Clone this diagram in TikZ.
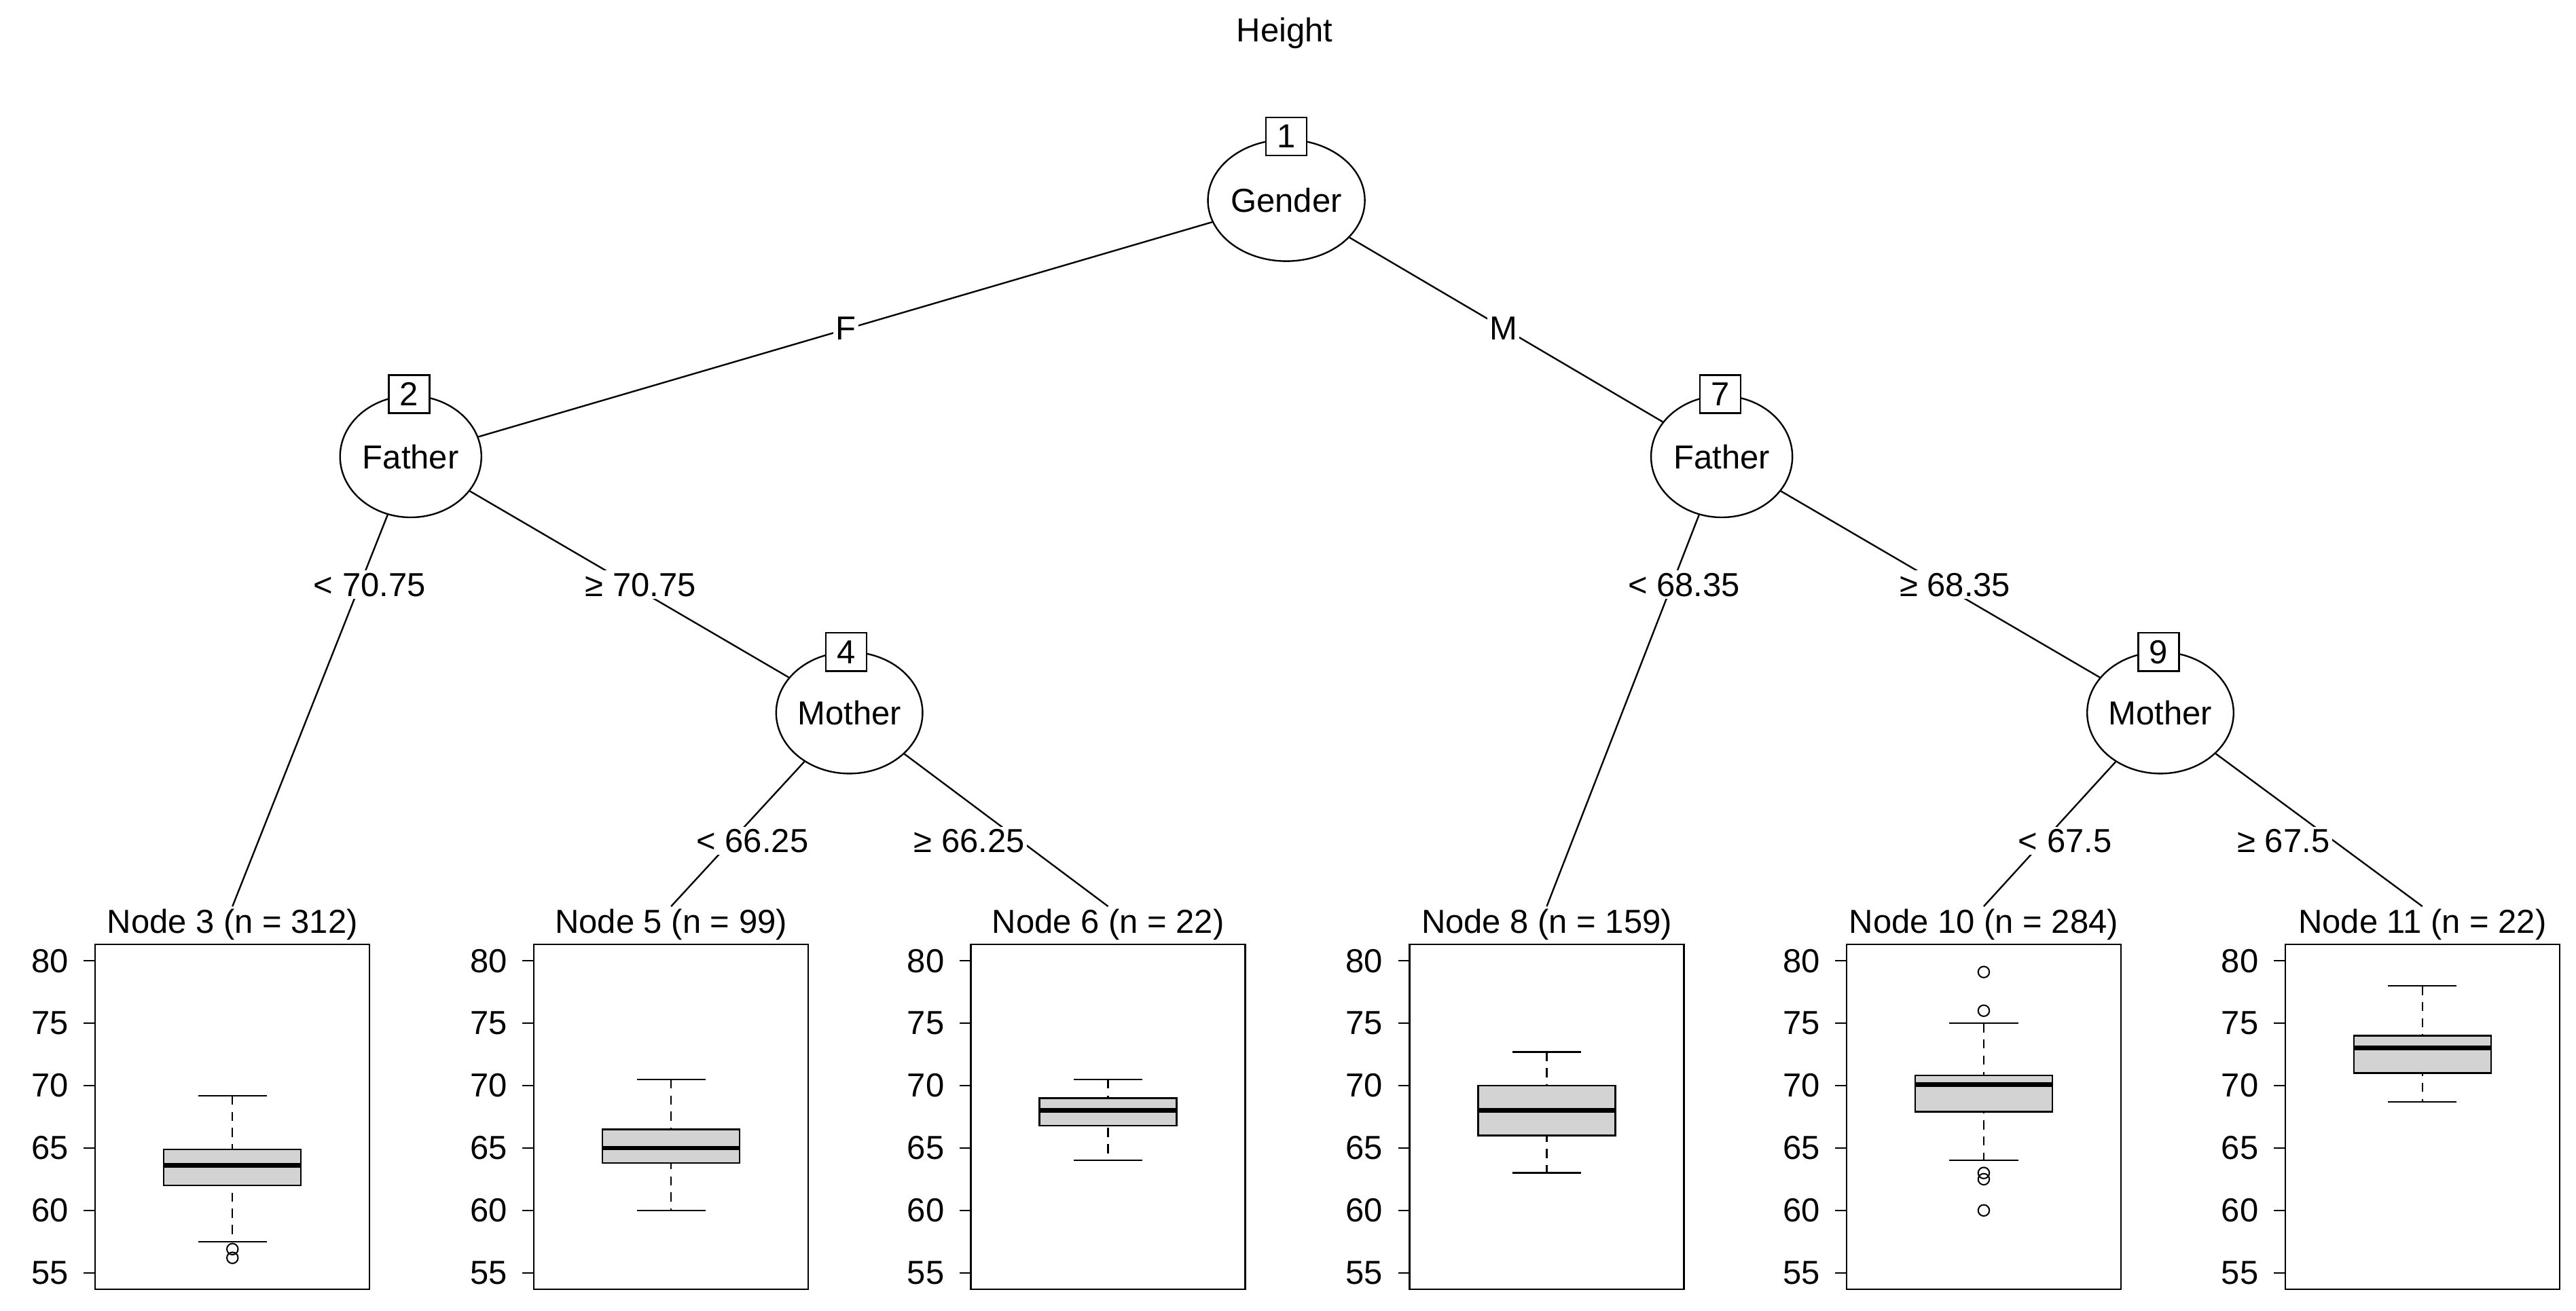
\documentclass[tikz,border=0pt]{standalone}
\usepackage{fontspec}
\setmainfont{Liberation Sans}
\usetikzlibrary{shapes.geometric}
\tikzset{
  every node/.style={font=\fontsize{14.4}{17}\selectfont},
  split/.style={ellipse,draw,line width=0.7pt,minimum width=2.15cm,minimum height=1.85cm,inner sep=0pt},
  idbox/.style={draw,fill=white,line width=0.7pt,minimum width=0.62cm,minimum height=0.58cm,inner sep=0pt},
  elab/.style={fill=white,inner sep=1pt},
  edge/.style={line width=0.7pt},
  ttl/.style={inner sep=1pt},
  pl/.style={line width=0.7pt},
}
% #1 left x, #2 name, #3 title, #4 wlo, #5 q1, #6 med, #7 q3, #8 whi
\newcommand\bxpanel[8]{%
  \node[ttl] (#2) at ({#1+83.5},563) {#3};
  \draw[pl] (#1,575) rectangle ({#1+167},785);
  \foreach \v in {55,60,...,80}{
    \draw[pl] ({#1-7},{585+(80-\v)*7.6}) -- (#1,{585+(80-\v)*7.6});
    \node[anchor=east,inner sep=0pt] at ({#1-16},{585+(80-\v)*7.6}) {\v};
  }
  \draw[pl,dash pattern=on 4pt off 3pt] ({#1+83.5},{585+(80-#8)*7.6}) -- ({#1+83.5},{585+(80-#4)*7.6});
  \draw[pl] ({#1+62.6},{585+(80-#8)*7.6}) -- ({#1+104.4},{585+(80-#8)*7.6});
  \draw[pl] ({#1+62.6},{585+(80-#4)*7.6}) -- ({#1+104.4},{585+(80-#4)*7.6});
  \draw[pl,fill={rgb,255:red,211;green,211;blue,211}] ({#1+41.75},{585+(80-#5)*7.6}) rectangle ({#1+125.25},{585+(80-#7)*7.6});
  \draw[line width=2pt] ({#1+41.75},{585+(80-#6)*7.6}) -- ({#1+125.25},{585+(80-#6)*7.6});
}
\newcommand\outl[2]{\draw[line width=0.6pt] ({#1+83.5},{585+(80-#2)*7.6}) circle[radius=0.085cm];}
\begin{document}
\begin{tikzpicture}[x=0.025cm,y=-0.025cm]
\useasboundingbox (0,0) rectangle (1568,798);
\node (title) at (782,20) {Height};
% splits
\node[split] (n1) at (783,122) {Gender};
\node[split] (n2) at (250,278) {Father};
\node[split] (n7) at (1048,278) {Father};
\node[split] (n4) at (517,434) {Mother};
\node[split] (n9) at (1315,434) {Mother};
% panels
\bxpanel{58}{t3}{Node 3 (n = 312)}{57.5}{62}{63.6}{64.9}{69.2}
\bxpanel{325}{t5}{Node 5 (n = 99)}{60}{63.8}{65}{66.5}{70.5}
\bxpanel{591}{t6}{Node 6 (n = 22)}{64}{66.8}{68}{69}{70.5}
\bxpanel{858}{t8}{Node 8 (n = 159)}{63}{66}{68}{70}{72.7}
\bxpanel{1124}{t10}{Node 10 (n = 284)}{64}{67.9}{70.1}{70.8}{75}
\bxpanel{1391}{t11}{Node 11 (n = 22)}{68.7}{71}{73}{74}{78}
\outl{58}{56.9}\outl{58}{56.2}
\outl{1124}{79.1}\outl{1124}{76}\outl{1124}{63}\outl{1124}{62.5}\outl{1124}{60}
% edges
\draw[edge] (n1) -- (n2);
\draw[edge] (n1) -- (n7);
\draw[edge] (n2) -- (t3.north);
\draw[edge] (n2) -- (n4);
\draw[edge] (n4) -- (t5.north);
\draw[edge] (n4) -- (t6.north);
\draw[edge] (n7) -- (t8.north);
\draw[edge] (n7) -- (n9);
\draw[edge] (n9) -- (t10.north);
\draw[edge] (n9) -- (t11.north);
% edge labels
\node[elab] (lF) at (515,200) {F};
\node[elab] (lM) at (915,200) {M};
\node[elab] (l23) at (225,356) {< 70.75};
\node[elab] (l24) at (390,356) {≥ 70.75};
\node[elab] (l45) at (458,512) {< 66.25};
\node[elab] (l46) at (590,512) {≥ 66.25};
\node[elab] (l78) at (1025,356) {< 68.35};
\node[elab] (l79) at (1190,356) {≥ 68.35};
\node[elab] (l910) at (1257,512) {< 67.5};
\node[elab] (l911) at (1390,512) {≥ 67.5};
% id boxes
\node[idbox] (b1) at (783,83) {1};
\node[idbox] (b2) at (249,240) {2};
\node[idbox] (b7) at (1047,240) {7};
\node[idbox] (b4) at (515,397) {4};
\node[idbox] (b9) at (1314,397) {9};
\end{tikzpicture}
\end{document}
